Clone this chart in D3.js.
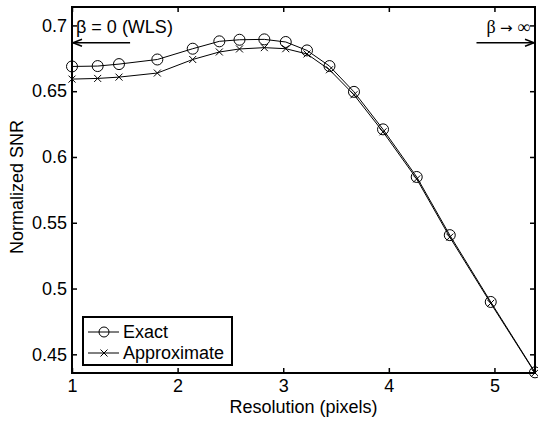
<!DOCTYPE html>
<html>
<head>
<meta charset="utf-8">
<script src="https://cdn.jsdelivr.net/npm/d3@7"></script>
<style>
body { margin: 0; background: #fff; }
text { font-family: "Liberation Sans", Arial, Helvetica, sans-serif; font-size: 18px; fill: #000; }
</style>
</head>
<body>
<script>
// values
const resolution = [1.0, 1.243, 1.445, 1.808, 2.143, 2.395, 2.586, 2.821, 3.024, 3.225, 3.438, 3.670, 3.945, 4.264, 4.577, 4.965, 5.384];
const exactSNR  = [0.6688, 0.6691, 0.6706, 0.6741, 0.6823, 0.6879, 0.6891, 0.6894, 0.6874, 0.6810, 0.6691, 0.6495, 0.6210, 0.5848, 0.5406, 0.4898, 0.4363];
const approxSNR = [0.6592, 0.6597, 0.6607, 0.6638, 0.6741, 0.6798, 0.6821, 0.6831, 0.6823, 0.6783, 0.6663, 0.6473, 0.6191, 0.5833, 0.5391, 0.4888, 0.4359];
const xTicks = [1, 2, 3, 4, 5];
const yTicks = [0.45, 0.5, 0.55, 0.6, 0.65, 0.7];
const seriesNames = ["Exact", "Approximate"];

const W = 538, H = 421;
const pLeft = 72, pRight = 535, pTop = 7, pBottom = 373;

let svg = d3.select("body")
    .append("svg")
    .attr("width", W)
    .attr("height", H);

svg.append("rect").attr("width", W).attr("height", H).attr("fill", "#fff");

let x = d3.scaleLinear().domain([1, 5.384]).range([pLeft, pRight]);
let y = d3.scaleLinear().domain([0.4358, 0.714]).range([pBottom, pTop]);

// axes, MATLAB style: ticks inward on all four sides
let gx = svg.append("g")
    .attr("transform", `translate(0,${pBottom})`)
    .call(d3.axisBottom(x).tickValues(xTicks).tickSize(-5).tickPadding(6).tickFormat(d3.format("d")));
let gy = svg.append("g")
    .attr("transform", `translate(${pLeft},0)`)
    .call(d3.axisLeft(y).tickValues(yTicks).tickSize(-5).tickPadding(5).tickFormat(d => String(d)));
let gxt = svg.append("g")
    .attr("transform", `translate(0,${pTop})`)
    .call(d3.axisTop(x).tickValues(xTicks).tickSize(-5).tickFormat(""));
let gyr = svg.append("g")
    .attr("transform", `translate(${pRight},0)`)
    .call(d3.axisRight(y).tickValues(yTicks).tickSize(-5).tickFormat(""));

[gx, gy, gxt, gyr].forEach(g => {
    g.select(".domain").remove();
    g.selectAll(".tick line").attr("stroke", "#000").attr("stroke-width", 1.5);
});

let line = d3.line().x((d, i) => x(resolution[i])).y(d => y(d));

svg.append("path").datum(exactSNR)
    .attr("d", line).attr("fill", "none").attr("stroke", "#000").attr("stroke-width", 1);
svg.append("path").datum(approxSNR)
    .attr("d", line).attr("fill", "none").attr("stroke", "#000").attr("stroke-width", 1);

const crossPath = "M-3.5,-3.5L3.5,3.5M-3.5,3.5L3.5,-3.5";

svg.append("g").selectAll("circle")
    .data(exactSNR)
    .enter()
    .append("circle")
    .attr("cx", (d, i) => x(resolution[i]))
    .attr("cy", d => y(d))
    .attr("r", 5.5)
    .attr("fill", "none")
    .attr("stroke", "#000")
    .attr("stroke-width", 1);

svg.append("g").selectAll("path")
    .data(approxSNR)
    .enter()
    .append("path")
    .attr("transform", (d, i) => `translate(${x(resolution[i])},${y(d)})`)
    .attr("d", crossPath)
    .attr("fill", "none")
    .attr("stroke", "#000")
    .attr("stroke-width", 1);

// axes box
svg.append("rect")
    .attr("x", pLeft).attr("y", pTop)
    .attr("width", pRight - pLeft).attr("height", pBottom - pTop)
    .attr("fill", "none").attr("stroke", "#000").attr("stroke-width", 2);

// annotations
const arrowY = y(0.6868);
function arrow(x1, x2) {
    let dir = Math.sign(x2 - x1);
    svg.append("line")
        .attr("x1", x1).attr("x2", x2).attr("y1", arrowY).attr("y2", arrowY)
        .attr("stroke", "#000").attr("stroke-width", 1.5);
    svg.append("path")
        .attr("d", `M${x2 - dir * 9},${arrowY - 3.5}L${x2},${arrowY}L${x2 - dir * 9},${arrowY + 3.5}`)
        .attr("fill", "none").attr("stroke", "#000").attr("stroke-width", 1.5);
}
arrow(x(1.55), x(1) + 1);
arrow(x(4.83), x(5.384) - 1);

svg.append("text")
    .attr("x", x(1) + 4).attr("y", arrowY - 10)
    .text("β = 0 (WLS)");

let betaInf = svg.append("text")
    .attr("x", x(5.384) - 5).attr("y", arrowY - 10)
    .attr("text-anchor", "end")
    .style("font-family", "'Liberation Serif', 'Times New Roman', serif");
betaInf.append("tspan").text("β ");
betaInf.append("tspan").style("font-family", "'DejaVu Sans', sans-serif").style("font-size", "15px").text("→");
betaInf.append("tspan").text(" ∞");

// axis labels
svg.append("text")
    .attr("x", (pLeft + pRight) / 2).attr("y", 413)
    .attr("text-anchor", "middle")
    .text("Resolution (pixels)");

svg.append("text")
    .attr("transform", `translate(23,${(pTop + pBottom) / 2 - 3}) rotate(-90)`)
    .attr("text-anchor", "middle")
    .text("Normalized SNR");

// legend
let legend = svg.append("g").attr("transform", "translate(83,317)");
legend.append("rect")
    .attr("width", 149).attr("height", 48)
    .attr("fill", "#fff").attr("stroke", "#000").attr("stroke-width", 2);

seriesNames.forEach((name, i) => {
    let ly = 15 + i * 21;
    legend.append("line")
        .attr("x1", 5).attr("x2", 36).attr("y1", ly).attr("y2", ly)
        .attr("stroke", "#000").attr("stroke-width", 1);
    if (i === 0) {
        legend.append("circle").attr("cx", 21).attr("cy", ly).attr("r", 5)
            .attr("fill", "none").attr("stroke", "#000").attr("stroke-width", 1);
    } else {
        legend.append("path").attr("transform", `translate(21,${ly})`).attr("d", crossPath)
            .attr("fill", "none").attr("stroke", "#000").attr("stroke-width", 1);
    }
    legend.append("text")
        .attr("x", 40).attr("y", ly).attr("dy", "0.35em")
        .text(name);
});
</script>
</body>
</html>
